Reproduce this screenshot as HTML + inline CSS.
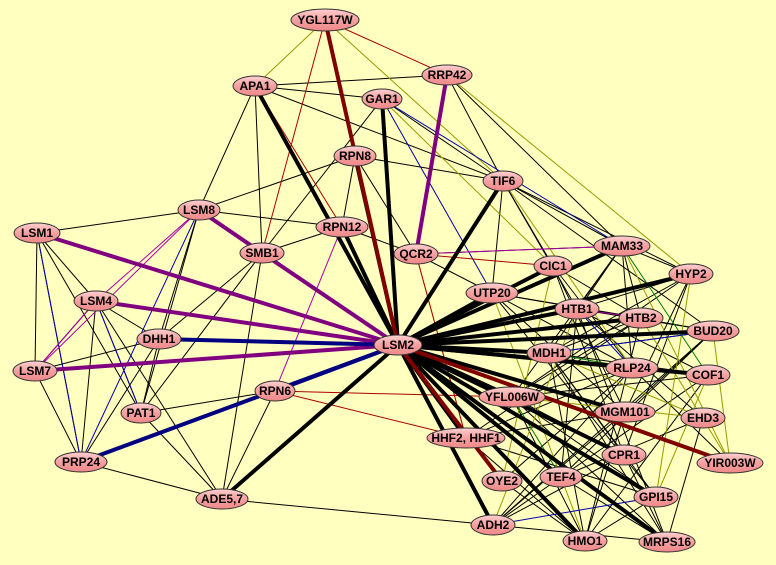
<!DOCTYPE html>
<html><head><meta charset="utf-8"><style>
body{margin:0;background:#ffffc0;}
svg{display:block}
text{font-family:"Liberation Sans",sans-serif;font-weight:bold;font-size:12px;text-anchor:middle;dominant-baseline:central;fill:#000}
</style></head><body>
<svg width="776" height="565" viewBox="0 0 776 565" xmlns="http://www.w3.org/2000/svg">
<defs><linearGradient id="g" x1="0" y1="0" x2="0" y2="1"><stop offset="0" stop-color="#ffd0d0"/><stop offset="0.5" stop-color="#f5a0a0"/><stop offset="1" stop-color="#ee8888"/></linearGradient></defs>
<rect width="776" height="565" fill="#ffffc0"/>
<g stroke-width="1" fill="none">
<g stroke="#000">
<line x1="255" y1="86" x2="447" y2="75"/><line x1="255" y1="86" x2="382" y2="99"/><line x1="255" y1="86" x2="199" y2="210"/><line x1="255" y1="86" x2="262" y2="253"/><line x1="255" y1="86" x2="503" y2="181"/>
<line x1="447" y1="75" x2="503" y2="181"/><line x1="447" y1="75" x2="622" y2="246"/><line x1="382" y1="99" x2="262" y2="253"/><line x1="382" y1="99" x2="503" y2="181"/>
<line x1="355" y1="156" x2="199" y2="210"/><line x1="355" y1="156" x2="503" y2="181"/><line x1="355" y1="156" x2="416" y2="254"/><line x1="355" y1="156" x2="342" y2="227"/>
<line x1="199" y1="210" x2="37" y2="233"/><line x1="199" y1="210" x2="159" y2="339"/><line x1="199" y1="210" x2="141" y2="413"/><line x1="199" y1="210" x2="342" y2="227"/>
<line x1="37" y1="233" x2="96" y2="301"/><line x1="37" y1="233" x2="35" y2="371"/><line x1="37" y1="233" x2="81" y2="462"/><line x1="37" y1="233" x2="141" y2="413"/>
<line x1="96" y1="301" x2="159" y2="339"/><line x1="96" y1="301" x2="141" y2="413"/><line x1="96" y1="301" x2="81" y2="462"/><line x1="96" y1="301" x2="35" y2="371"/>
<line x1="35" y1="371" x2="159" y2="339"/><line x1="35" y1="371" x2="81" y2="462"/><line x1="159" y1="339" x2="141" y2="413"/><line x1="159" y1="339" x2="81" y2="462"/><line x1="159" y1="339" x2="262" y2="253"/>
<line x1="262" y1="253" x2="141" y2="413"/><line x1="262" y1="253" x2="222" y2="499"/><line x1="275" y1="391" x2="222" y2="499"/><line x1="275" y1="391" x2="81" y2="462"/><line x1="275" y1="391" x2="141" y2="413"/>
<line x1="222" y1="499" x2="81" y2="462"/><line x1="222" y1="499" x2="493" y2="525"/><line x1="222" y1="499" x2="141" y2="413"/><line x1="222" y1="499" x2="96" y2="301"/>
<line x1="503" y1="181" x2="622" y2="246"/><line x1="503" y1="181" x2="553" y2="266"/><line x1="503" y1="181" x2="577" y2="309"/><line x1="503" y1="181" x2="492" y2="293"/><line x1="503" y1="181" x2="691" y2="274"/><line x1="503" y1="181" x2="713" y2="331"/>
<line x1="416" y1="254" x2="492" y2="293"/><line x1="416" y1="254" x2="622" y2="246"/><line x1="342" y1="227" x2="416" y2="254"/><line x1="342" y1="227" x2="262" y2="253"/>
<line x1="622" y1="246" x2="691" y2="274"/><line x1="622" y1="246" x2="577" y2="309"/><line x1="622" y1="246" x2="641" y2="318"/><line x1="622" y1="246" x2="549" y2="353"/><line x1="622" y1="246" x2="632" y2="368"/><line x1="622" y1="246" x2="512" y2="397"/>
<line x1="553" y1="266" x2="641" y2="318"/><line x1="553" y1="266" x2="632" y2="368"/><line x1="553" y1="266" x2="625" y2="412"/><line x1="553" y1="266" x2="624" y2="455"/>
<line x1="691" y1="274" x2="577" y2="309"/><line x1="691" y1="274" x2="549" y2="353"/><line x1="691" y1="274" x2="625" y2="412"/><line x1="691" y1="274" x2="512" y2="397"/><line x1="691" y1="274" x2="624" y2="455"/>
<line x1="492" y1="293" x2="641" y2="318"/><line x1="492" y1="293" x2="713" y2="331"/><line x1="492" y1="293" x2="632" y2="368"/><line x1="492" y1="293" x2="625" y2="412"/><line x1="492" y1="293" x2="656" y2="497"/>
<line x1="577" y1="309" x2="713" y2="331"/><line x1="577" y1="309" x2="708" y2="375"/><line x1="577" y1="309" x2="703" y2="418"/><line x1="577" y1="309" x2="561" y2="477"/><line x1="577" y1="309" x2="667" y2="542"/>
<line x1="641" y1="318" x2="549" y2="353"/><line x1="641" y1="318" x2="512" y2="397"/><line x1="641" y1="318" x2="466" y2="438"/><line x1="641" y1="318" x2="585" y2="541"/>
<line x1="713" y1="331" x2="549" y2="353"/><line x1="713" y1="331" x2="625" y2="412"/><line x1="713" y1="331" x2="561" y2="477"/><line x1="713" y1="331" x2="493" y2="525"/>
<line x1="549" y1="353" x2="708" y2="375"/><line x1="549" y1="353" x2="624" y2="455"/><line x1="549" y1="353" x2="656" y2="497"/><line x1="549" y1="353" x2="585" y2="541"/><line x1="549" y1="353" x2="667" y2="542"/>
<line x1="632" y1="368" x2="512" y2="397"/><line x1="632" y1="368" x2="466" y2="438"/><line x1="632" y1="368" x2="502" y2="481"/><line x1="632" y1="368" x2="493" y2="525"/><line x1="632" y1="368" x2="730" y2="463"/>
<line x1="708" y1="375" x2="512" y2="397"/><line x1="708" y1="375" x2="561" y2="477"/><line x1="708" y1="375" x2="585" y2="541"/>
<line x1="512" y1="397" x2="624" y2="455"/><line x1="512" y1="397" x2="656" y2="497"/><line x1="512" y1="397" x2="667" y2="542"/><line x1="512" y1="397" x2="585" y2="541"/>
<line x1="625" y1="412" x2="466" y2="438"/><line x1="625" y1="412" x2="493" y2="525"/><line x1="625" y1="412" x2="585" y2="541"/><line x1="703" y1="418" x2="561" y2="477"/><line x1="703" y1="418" x2="667" y2="542"/>
<line x1="466" y1="438" x2="585" y2="541"/><line x1="466" y1="438" x2="656" y2="497"/><line x1="624" y1="455" x2="493" y2="525"/><line x1="624" y1="455" x2="667" y2="542"/>
<line x1="561" y1="477" x2="667" y2="542"/><line x1="561" y1="477" x2="493" y2="525"/><line x1="493" y1="525" x2="667" y2="542"/><line x1="502" y1="481" x2="585" y2="541"/><line x1="656" y1="497" x2="585" y2="541"/>
</g>
<g stroke="#999900">
<line x1="325" y1="20" x2="503" y2="181"/><line x1="325" y1="20" x2="255" y2="86"/><line x1="382" y1="99" x2="553" y2="266"/><line x1="503" y1="181" x2="632" y2="368"/>
<line x1="622" y1="246" x2="730" y2="463"/><line x1="691" y1="274" x2="656" y2="497"/><line x1="577" y1="309" x2="493" y2="525"/><line x1="713" y1="331" x2="730" y2="463"/>
<line x1="641" y1="318" x2="730" y2="463"/><line x1="549" y1="353" x2="703" y2="418"/><line x1="512" y1="397" x2="703" y2="418"/><line x1="553" y1="266" x2="502" y2="481"/>
<line x1="492" y1="293" x2="585" y2="541"/><line x1="416" y1="254" x2="466" y2="438"/><line x1="708" y1="375" x2="656" y2="497"/><line x1="447" y1="75" x2="691" y2="274"/>
</g>
<g stroke="#0000aa">
<line x1="382" y1="99" x2="622" y2="246"/><line x1="382" y1="99" x2="492" y2="293"/><line x1="199" y1="210" x2="81" y2="462"/><line x1="96" y1="301" x2="141" y2="413"/>
<line x1="37" y1="233" x2="81" y2="462"/><line x1="549" y1="353" x2="713" y2="331"/><line x1="577" y1="309" x2="632" y2="368"/><line x1="493" y1="525" x2="656" y2="497"/>
</g>
<g stroke="#aa0000">
<line x1="325" y1="20" x2="447" y2="75"/><line x1="325" y1="20" x2="262" y2="253"/><line x1="275" y1="391" x2="512" y2="397"/><line x1="275" y1="391" x2="466" y2="438"/>
<line x1="416" y1="254" x2="466" y2="438"/><line x1="255" y1="86" x2="342" y2="227"/><line x1="416" y1="254" x2="553" y2="266"/>
</g>
<g stroke="#aa00aa">
<line x1="199" y1="210" x2="96" y2="301"/><line x1="199" y1="210" x2="35" y2="371"/><line x1="342" y1="227" x2="275" y2="391"/><line x1="416" y1="254" x2="622" y2="246"/>
<line x1="96" y1="301" x2="35" y2="371"/><line x1="577" y1="309" x2="641" y2="318"/>
</g>
<g stroke="#007700"><line x1="549" y1="353" x2="632" y2="368"/><line x1="512" y1="397" x2="561" y2="477"/><line x1="622" y1="246" x2="708" y2="375"/></g>
</g>
<g stroke-linecap="round" fill="none">
<g stroke="#000" stroke-width="4">
<line x1="398" y1="345" x2="355" y2="156"/><line x1="398" y1="345" x2="342" y2="227"/><line x1="398" y1="345" x2="382" y2="99"/><line x1="398" y1="345" x2="255" y2="86"/><line x1="398" y1="345" x2="503" y2="181"/><line x1="398" y1="345" x2="222" y2="499"/><line x1="398" y1="345" x2="492" y2="293"/><line x1="398" y1="345" x2="577" y2="309"/><line x1="398" y1="345" x2="622" y2="246"/><line x1="398" y1="345" x2="641" y2="318"/><line x1="398" y1="345" x2="549" y2="353"/><line x1="398" y1="345" x2="632" y2="368"/><line x1="398" y1="345" x2="713" y2="331"/><line x1="398" y1="345" x2="691" y2="274"/><line x1="398" y1="345" x2="624" y2="455"/><line x1="398" y1="345" x2="656" y2="497"/><line x1="398" y1="345" x2="667" y2="542"/><line x1="398" y1="345" x2="585" y2="541"/><line x1="398" y1="345" x2="493" y2="525"/><line x1="398" y1="345" x2="561" y2="477"/><line x1="398" y1="345" x2="625" y2="412"/><line x1="398" y1="345" x2="512" y2="397"/><line x1="398" y1="345" x2="553" y2="266"/><line x1="398" y1="345" x2="708" y2="375"/><line x1="398" y1="345" x2="466" y2="438"/>
</g>
<g stroke="#800000" stroke-width="4"><line x1="325" y1="20" x2="398" y2="345"/><line x1="398" y1="345" x2="730" y2="463"/><line x1="398" y1="345" x2="502" y2="481"/></g>
<g stroke="#800080" stroke-width="4"><line x1="37" y1="233" x2="398" y2="345"/><line x1="96" y1="301" x2="398" y2="345"/><line x1="35" y1="371" x2="398" y2="345"/><line x1="199" y1="210" x2="262" y2="253"/><line x1="262" y1="253" x2="398" y2="345"/><line x1="447" y1="75" x2="416" y2="254"/></g>
<g stroke="#000080" stroke-width="4"><line x1="159" y1="339" x2="398" y2="345"/><line x1="81" y1="462" x2="398" y2="345"/><line x1="275" y1="391" x2="398" y2="345"/></g>
</g>
<g stroke="#333" stroke-width="1" fill="url(#g)">
<ellipse cx="325" cy="20" rx="34" ry="11"/><ellipse cx="255" cy="86" rx="22" ry="10"/><ellipse cx="447" cy="75" rx="25" ry="10"/><ellipse cx="382" cy="99" rx="20" ry="10"/>
<ellipse cx="355" cy="156" rx="21" ry="10"/><ellipse cx="503" cy="181" rx="20" ry="10"/><ellipse cx="199" cy="210" rx="21" ry="10"/><ellipse cx="37" cy="233" rx="23" ry="10"/>
<ellipse cx="342" cy="227" rx="26" ry="10"/><ellipse cx="262" cy="253" rx="22" ry="10"/><ellipse cx="416" cy="254" rx="22" ry="10"/><ellipse cx="622" cy="246" rx="28" ry="10"/>
<ellipse cx="553" cy="266" rx="19" ry="10"/><ellipse cx="691" cy="274" rx="22" ry="10"/><ellipse cx="492" cy="293" rx="26" ry="10"/><ellipse cx="96" cy="301" rx="22" ry="10"/>
<ellipse cx="577" cy="309" rx="22" ry="10"/><ellipse cx="641" cy="318" rx="22" ry="10"/><ellipse cx="713" cy="331" rx="26" ry="10"/><ellipse cx="159" cy="339" rx="22" ry="10"/>
<ellipse cx="398" cy="345" rx="24" ry="10"/><ellipse cx="549" cy="353" rx="22" ry="10"/><ellipse cx="35" cy="371" rx="22" ry="10"/><ellipse cx="632" cy="368" rx="26" ry="10"/>
<ellipse cx="708" cy="375" rx="22" ry="10"/><ellipse cx="275" cy="391" rx="20" ry="10"/><ellipse cx="512" cy="397" rx="33" ry="10"/><ellipse cx="141" cy="413" rx="20" ry="10"/>
<ellipse cx="625" cy="412" rx="30" ry="10"/><ellipse cx="703" cy="418" rx="22" ry="10"/><ellipse cx="466" cy="438" rx="39" ry="10"/><ellipse cx="624" cy="455" rx="22" ry="10"/>
<ellipse cx="730" cy="463" rx="33" ry="10"/><ellipse cx="81" cy="462" rx="26" ry="10"/><ellipse cx="502" cy="481" rx="20" ry="10"/><ellipse cx="561" cy="477" rx="21" ry="10"/>
<ellipse cx="656" cy="497" rx="22" ry="10"/><ellipse cx="222" cy="499" rx="26" ry="10"/><ellipse cx="493" cy="525" rx="22" ry="10"/><ellipse cx="585" cy="541" rx="22" ry="10"/>
<ellipse cx="667" cy="542" rx="28" ry="10"/>
</g>
<text x="325" y="20">YGL117W</text><text x="255" y="86">APA1</text><text x="447" y="75">RRP42</text><text x="382" y="99">GAR1</text>
<text x="355" y="156">RPN8</text><text x="503" y="181">TIF6</text><text x="199" y="210">LSM8</text><text x="37" y="233">LSM1</text>
<text x="342" y="227">RPN12</text><text x="262" y="253">SMB1</text><text x="416" y="254">QCR2</text><text x="622" y="246">MAM33</text>
<text x="553" y="266">CIC1</text><text x="691" y="274">HYP2</text><text x="492" y="293">UTP20</text><text x="96" y="301">LSM4</text>
<text x="577" y="309">HTB1</text><text x="641" y="318">HTB2</text><text x="713" y="331">BUD20</text><text x="159" y="339">DHH1</text>
<text x="398" y="345">LSM2</text><text x="549" y="353">MDH1</text><text x="35" y="371">LSM7</text><text x="632" y="368">RLP24</text>
<text x="708" y="375">COF1</text><text x="275" y="391">RPN6</text><text x="512" y="397">YFL006W</text><text x="141" y="413">PAT1</text>
<text x="625" y="412">MGM101</text><text x="703" y="418">EHD3</text><text x="466" y="438">HHF2, HHF1</text><text x="624" y="455">CPR1</text>
<text x="730" y="463">YIR003W</text><text x="81" y="462">PRP24</text><text x="502" y="481">OYE2</text><text x="561" y="477">TEF4</text>
<text x="656" y="497">GPI15</text><text x="222" y="499">ADE5,7</text><text x="493" y="525">ADH2</text><text x="585" y="541">HMO1</text>
<text x="667" y="542">MRPS16</text>
</svg>
</body></html>
